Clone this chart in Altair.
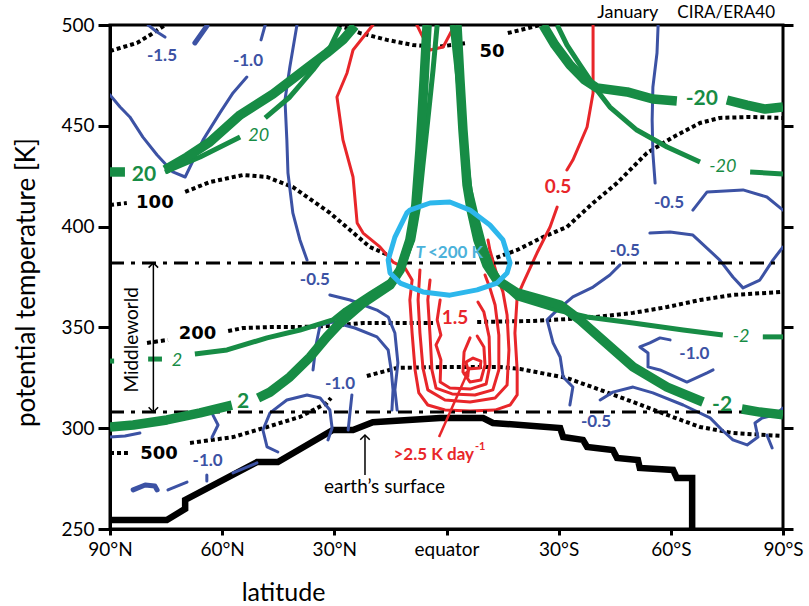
import altair as alt
import pandas as pd

# ---------------- data: latitude in degrees (+ = north), potential temperature in K ----------------
LAT_TICKS = [90, 60, 30, 0, -30, -60, -90]
TH_TICKS = [250, 300, 350, 400, 450, 500]

# Earth's surface
SURF_LAT = [90, 74.8, 69.9, 69.9, 50.7, 45.1, 30.4, 25.0, 19.7, 1.7, -9.8, -12.4, -30.4, -31.2, -36.5,
            -37.6, -44.5, -45.6, -51.2, -51.7, -60.6, -61.6, -65.7, -65.7]
SURF_TH = [254.5, 254.5, 260, 264.4, 283.2, 283.2, 299.1, 299.1, 303, 305, 305, 302.6, 300.1, 295.6, 294.2,
           290.7, 289.2, 285.2, 284.2, 280.3, 279.3, 275.3, 275.3, 250]

# Middleworld bounds (dash-dot)
DD_LAT = [90, -90]
DD_UP_TH = [382, 382]
DD_LO_TH = [308, 308]

# isobars (hPa), dotted black
ISO50_A_LAT = [90, 82.8, 79.3, 75.3]
ISO50_A_TH = [487.1, 491.1, 495, 500]
ISO50_B_LAT = [29.0, 23.1, 15.9, 9.0, 2.5, -5.5]
ISO50_B_TH = [500, 496, 492.6, 490.1, 489.1, 491.1]
ISO50_C_LAT = [-16.4, -19.7, -25.0]
ISO50_C_TH = [496, 497.5, 500]
ISO100_A_LAT = [90, 85.5]
ISO100_A_TH = [410.7, 411.7]
ISO100_B_LAT = [69.9, 63.3, 54.4, 48.0, 41.1, 31.2, 25.8, 20.5, 15.6]
ISO100_B_TH = [417.2, 422.1, 425.6, 424.6, 419.6, 406.8, 398.3, 389.9, 385.9]
ISO100_C_LAT = [-11.6, -18.9, -25.8, -32.2, -39.2, -45.6, -53.6, -60.6, -67.8, -73.1, -81.2, -90]
ISO100_C_TH = [383.4, 388.4, 394.8, 399.8, 411.7, 421.6, 436.5, 444.4, 451.4, 453.9, 454.4, 453.9]
ISO200_A_LAT = [80.1, 74.5]
ISO200_A_TH = [342.3, 343.8]
ISO200_B_LAT = [58.4, 54.4, 46.4, 39.2, 31.2, 22.3, 9.8, 3.6]
ISO200_B_TH = [348.2, 349.7, 350.2, 350.2, 350.7, 352.2, 352.2, 352.2]
ISO200_C_LAT = [-8.2, -23.1, -37.6, -49.9, -59.0, -67.8, -76.6, -90]
ISO200_C_TH = [352.7, 353.2, 354.7, 357.2, 360.1, 363.6, 366.1, 367.6]
ISO500_A_LAT = [90, 85.2]
ISO500_A_TH = [287.7, 287.7]
ISO500_B_LAT = [68.6, 57.1, 48.0, 39.2, 32.0, 30.9]
ISO500_B_TH = [292.7, 295.6, 300.6, 305.6, 312.5, 315]
ISO500_C_LAT = [21.3, 13.2, -0.1, -14.3, -19.7, -32.2, -41.1, -49.9, -59.0, -67.8, -76.6, -90]
ISO500_C_TH = [325.9, 329.9, 330.4, 330.4, 329.4, 324.9, 319, 313, 306.6, 300.6, 297.6, 296.1]
ISO_TEXT = ["50", "100", "200", "500"]
ISO_TXT_LAT = [-12.2, 78.0, 66.6, 76.9]
ISO_TXT_TH = [486.4, 411.7, 346.7, 287.2]

# zonal wind (m/s), green: thick = CIRA, thin = ERA40
G20_THICK_A_LAT = [90, 86.0]
G20_THICK_A_TH = [427.1, 427.1]
G20_THICK_B_LAT = [75.3, 69.4, 63.3, 55.2, 46.4, 37.3, 32.0, 27.7, 24.5]
G20_THICK_B_TH = [428.1, 434.5, 442, 455.4, 465.8, 478.7, 486.1, 492.6, 499.5]
G20_THIN_A_LAT = [75.3, 65.9, 55.2]
G20_THIN_A_TH = [427.1, 434.5, 444.4]
G20_THIN_B_LAT = [48.5, 41.9, 35.7, 31.2, 28.5]
G20_THIN_B_TH = [453.9, 464.3, 477.7, 488.6, 499]
GL_THICK_A_LAT = [5.2, 6.0, 7.1, 8.2, 9.8, 12.4, 15.1, 22.3, 28.5, 32.0, 36.5, 41.9, 47.2, 50.4]
GL_THICK_A_TH = [500, 472.7, 438, 410.7, 393.4, 378.5, 371, 362.1, 352.2, 345.3, 335.3, 325.4, 317.9, 315]
GL_THICK_B_LAT = [57.4, 65.9, 74.8, 83.8, 90]
GL_THICK_B_TH = [311.5, 307.6, 304.1, 301.6, 300.6]
GL_THIN_A_LAT = [2.5, 3.6, 5.0, 6.3, 7.4, 9.0, 11.6, 14.6, 20.5, 27.1, 30.4, 39.2, 48.0, 58.7, 67.3]
GL_THIN_A_TH = [500, 477.7, 452.9, 430.6, 410.7, 393.4, 381, 373.5, 366.6, 358.6, 353.7, 348.7, 344.8, 338.8, 336.8]
GL_THIN_B_LAT = [76.1, 79.8]
GL_THIN_B_TH = [334.3, 334.3]
GL_THIN_C_LAT = [90, 88.9]
GL_THIN_C_TH = [333.3, 333.3]
GR_THICK_A_LAT = [-2.8, -3.6, -4.4, -5.5, -6.6, -8.4, -10.8, -13.5, -18.9, -25.8, -30.4, -35.7, -41.1, -49.9, -59.0, -68.6]
GR_THICK_A_TH = [500, 472.7, 447.9, 420.6, 408.2, 393.4, 381, 373.5, 367.1, 363.6, 361.1, 353.7, 344.8, 330.4, 320.4, 313]
GR_THICK_B_LAT = [-79.0, -83.8, -90]
GR_THICK_B_TH = [309.5, 308, 306.6]
GR_THIN_A_LAT = [-1.5, -3.1, -4.7, -6.3, -7.9, -10.0, -12.2, -15.1, -18.9, -29.6, -37.6, -49.9, -63.3, -73.9]
GR_THIN_A_TH = [500, 472.7, 443, 418.2, 405.8, 390.9, 379.5, 371, 364.6, 358.6, 355.2, 352.2, 348.7, 346.2]
GR_THIN_B_LAT = [-84.6, -90]
GR_THIN_B_TH = [345.3, 345.3]
GUR_THICK_A_LAT = [-25.8, -29.0, -33.0, -37.0, -40.2, -48.3, -55.2, -61.6]
GUR_THICK_A_TH = [500, 490.1, 480.2, 472.7, 468.8, 466.8, 463.3, 462.3]
GUR_THICK_B_LAT = [-75.0, -80.4, -85.2, -90]
GUR_THICK_B_TH = [462.8, 460.3, 458.3, 459.3]
GUR_THIN_A_LAT = [-29.6, -32.2, -35.7, -40.2, -43.7, -50.9, -59.0, -67.8]
GUR_THIN_A_TH = [500, 490.1, 480.2, 467.8, 459.3, 447.9, 439.5, 432.0]
GUR_THIN_B_LAT = [-81.2, -90]
GUR_THIN_B_TH = [427.1, 426.1]
GREEN_BOLD_TEXT = ["20", "2", "-2", "-20"]
GREEN_BOLD_LAT = [80.9, 54.4, -73.7, -68.3]
GREEN_BOLD_TH = [425.6, 312.8, 311.3, 463.3]
GREEN_ITAL_TEXT = ["20", "2", "-2", "-20"]
GREEN_ITAL_LAT = [50.2, 72.1, -78.8, -73.9]
GREEN_ITAL_TH = [444.7, 333.3, 345.0, 429.8]

# heating rate (K/day), red = positive
R1A_LAT = [19.7, 25.0, 26.6, 29.3, 27.7, 25.0, 23.9, 22.3, 17.8, 14.3, 11.1, 9.2, 9.8, 9.2, 8.4, 7.4, 5.0, 0.4,
           -6.3, -13.0, -17.0, -18.9, -18.9, -18.3, -18.9, -20.5, -24.2, -27.7, -29.6]
R1A_TH = [500, 487.6, 476.2, 464.3, 443, 424.6, 401.8, 396.8, 389.9, 382.4, 379.5, 373.5, 363.6, 347.2, 328.9, 317.5,
          311.5, 309, 308.5, 309, 311.5, 316.5, 328.9, 347.2, 365.1, 372, 386.9, 399.8, 409.7]
R1B_LAT = [-32.2, -33.8, -37.6, -39.2, -39.2]
R1B_TH = [428.1, 433.0, 449.4, 466.3, 500]
R2_LAT = [7.9, 6.6, 4.4, 0.9, -1.5, -1.7]
R2_TH = [500, 495, 487.6, 489.1, 497.5, 500]
R3_LAT = [7.1, 7.6, 7.1, 6.3, 5.0, 0.4, -6.3, -13.0, -16.2, -16.7, -16.2, -15.1, -13.5, -11.6, -11.1]
R3_TH = [378.5, 363.6, 347.2, 329.9, 319, 314, 313, 315, 321.4, 338.8, 356.2, 367.6, 376, 388.4, 393.4]
R4_LAT = [4.4, 5.0, 4.4, 3.9, 2.8, -1.5, -7.6, -12.4, -14.0, -14.0, -13.0, -11.6, -10.3]
R4_TH = [373.5, 363.6, 346.2, 328.9, 319.9, 317, 316.5, 319, 328.9, 346.2, 361.1, 369.6, 376]
R5_LAT = [1.7, 2.5, 1.5, 2.8, 1.5, 1.7, -0.9, -6.3, -10.6, -11.6, -11.4, -10.0, -8.4]
R5_TH = [363.6, 353.7, 346.2, 341.3, 333.8, 322.9, 319.9, 319.4, 321.9, 331.4, 345.3, 357.6, 362.6]
R6_LAT = [-6.3, -4.7, -4.4, -6.3, -9.2, -10.3, -10.0, -8.2]
R6_TH = [344.8, 337.8, 327.9, 322.9, 323.9, 331.4, 340.3, 345.7]
R7_LAT = [-5.2, -5.7, -9.0, -9.2, -7.1, -5.2]
R7_TH = [332.8, 329.4, 329.9, 333.3, 334.8, 332.8]
RED_TEXT = ["0.5", "1.5"]
RED_TXT_LAT = [-29.8, -2.3]
RED_TXT_TH = [419.6, 354.9]
RED_ARROW_LAT = [2.0, -6.3]
RED_ARROW_TH = [295.6, 330.4]
RED_HEAD_LAT = [-5.75]
RED_HEAD_TH = [328.1]

# heating rate, blue = negative
BT1_LAT = [79.8, 77.4, 75.3]
BT1_TH = [500, 496.5, 494]
BT2_LAT = [67.3, 64.1]
BT2_TH = [491.1, 499.5]
B2A_LAT = [48.5, 49.6]
B2A_TH = [500, 492.6]
B2B_LAT = [53.4, 57.1, 60.6, 65.1, 69.9, 73.2, 77.4, 81.2, 84.7, 87.3, 90]
B2B_TH = [474.2, 466.3, 456.4, 443, 424.6, 427.1, 435.5, 444.4, 454.4, 459.3, 465.3]
B3_LAT = [40.0, 41.9, 43.2, 42.7, 42.4, 41.1, 39.2, 37.3]
B3_TH = [500, 479.2, 462.8, 443, 426.6, 406.8, 393.4, 383.4]
BC1_LAT = [31.2, 25.8, 18.6, 15.6, 13.8, 13.0, 13.8, 13.2]
BC1_TH = [366.1, 363.6, 358.6, 355.2, 347.2, 332.4, 319, 309]
BC2_LAT = [35.7, 34.9, 33.8, 30.4, 24.5, 18.6, 15.6, 14.8, 14.3, 14.6]
BC2_TH = [328.9, 341.3, 351.2, 352.7, 349.7, 345.3, 338.8, 328.9, 319, 309]
BLOOP_LAT = [45.1, 48.0, 49.1, 47.2, 42.7, 37.3, 33.8, 31.2, 30.6, 31.7]
BLOOP_TH = [288.2, 290.7, 299.1, 307.6, 314, 316.5, 315, 309, 300.1, 294.2]
BS2_LAT = [25.3, 25.8, 26.3]
BS2_TH = [316.5, 308, 299.1]
BLS_LAT = [62.5, 61.1, 62.7]
BLS_TH = [306.6, 301.6, 295.6]
BLA_LAT = [90, 86.0, 82.0]
BLA_TH = [295.6, 296.1, 297.6]
BD0_LAT = [83.8, 80.6, 78.0, 77.4]
BD0_TH = [269.4, 271.8, 271.3, 269.4]
BD1_LAT = [74.5, 69.4]
BD1_TH = [269.4, 273.3]
BD2_LAT = [64.1, 64.1]
BD2_TH = [276.8, 273.8]
BD3_LAT = [57.1, 50.7]
BD3_TH = [277.8, 282.8]
BR1_LAT = [-56.6, -56.3, -55.2, -55.0, -55.2, -55.8]
BR1_TH = [500, 486.1, 469.2, 452.9, 436.5, 421.6]
BR2_LAT = [-65.9, -69.7, -79.3, -85.7, -90]
BR2_TH = [408.2, 417.2, 418.2, 414.7, 408.2]
BR3_LAT = [-54.4, -59.8, -65.9, -73.1, -76.6, -79.3, -83.8, -87.3, -90]
BR3_TH = [396.8, 397.3, 395.8, 383.4, 375, 369.6, 373.5, 383.4, 389.9]
BR4_LAT = [-46.4, -43.7, -39.2, -33.8, -29.6, -26.9, -28.5, -30.4, -31.2, -33.8, -33.0]
BR4_TH = [381, 376, 370, 365.1, 358.6, 353.7, 342.3, 335.3, 325.4, 320.4, 311.5]
BR5_LAT = [-59.8, -57.1, -54.4, -51.7, -53.9, -53.9, -57.1, -64.3, -69.7, -71.3]
BR5_TH = [343.8, 344.8, 342.3, 340.3, 337.3, 330.4, 328.9, 322.9, 327.4, 328.9]
BR6_LAT = [-41.1, -44.5, -49.9, -55.2, -63.3, -70.5, -73.7, -76.6, -80.4, -83.3, -82.5, -84.4, -87.9, -90]
BR6_TH = [314, 317.9, 320.4, 317.5, 311.5, 305.1, 299.1, 294.2, 291.7, 295.6, 302.6, 305.1, 306.6, 310]
BR7_LAT = [-85.7, -87.1]
BR7_TH = [296.6, 290.2]
BLUE_TEXT = ["-1.5", "-1.0", "-0.5", "-1.0", "-1.0", "-0.5", "-0.5", "-1.0", "-0.5"]
BLUE_TXT_LAT = [76.1, 53.1, 35.2, 28.5, 63.9, -59.5, -47.7, -66.3, -40.0]
BLUE_TXT_TH = [484.6, 482.1, 373.5, 321.9, 283.7, 411.5, 388.0, 336.8, 303.1]

# T < 200 K region
COLD_LAT = [9.8, 4.4, -0.9, -6.3, -11.6, -15.1, -17.0, -16.2, -13.5, -8.2, -0.9, 6.3, 12.4, 15.1, 15.6, 13.8, 10.6, 9.8]
COLD_TH = [408.2, 411.7, 412.2, 408.2, 400.8, 393.4, 382, 377, 372, 368.6, 366, 367.6, 372, 377, 383.4, 394.8, 406.8, 408.2]

# annotation arrows
MW_LAT = [78.4, 78.4]
MW_TH = [382, 308]
ES_LAT = [21.8, 21.8]
ES_TH = [276.8, 296.6]

# ---------------- helpers ----------------
XSC = alt.Scale(domain=[90, -90], nice=False, zero=False)
YSC = alt.Scale(domain=[250, 500], nice=False, zero=False)
XN = alt.X("lat:Q", scale=XSC, axis=None)
YN = alt.Y("theta:Q", scale=YSC, axis=None)

LABEL_EXPR = ("datum.value == 0 ? 'equator' : (datum.value > 0 ? datum.value + '°N' : "
              "(-datum.value) + '°S')")
X_AX = alt.X("lat:Q", scale=XSC, axis=alt.Axis(
    orient="bottom", values=LAT_TICKS, labelExpr=LABEL_EXPR, tickSize=6, tickWidth=3, tickColor="black",
    domainColor="black", domainWidth=3, labelFont="Lato", labelFontSize=19, labelColor="black",
    labelPadding=5, labelFlush=False, labelOverlap=False, grid=False,
    title="latitude", titleFont="Lato", titleFontSize=25, titleFontWeight="normal", titleColor="black",
    titleX=173, titleY=71, titleAlign="center", titleBaseline="alphabetic"))
Y_AX = alt.Y("theta:Q", scale=YSC, axis=alt.Axis(
    orient="left", values=TH_TICKS, tickSize=12, tickWidth=3, tickColor="black", domainColor="black",
    domainWidth=3, labelFont="Lato", labelFontSize=19, labelColor="black", labelPadding=4, grid=False,
    title="potential temperature [K]", titleFont="Lato", titleFontSize=26, titleFontWeight="normal",
    titleColor="black", titleX=-84, titleY=257, titleAngle=270, titleAlign="center",
    titleBaseline="middle"))
Y_RIGHT = alt.Y("theta:Q", scale=YSC, axis=alt.Axis(
    orient="right", values=TH_TICKS, labels=False, tickSize=10, tickWidth=3, tickColor="black",
    domain=False, grid=False, title=""))


def paths_df(paths):
    rows = []
    for k, (la, th) in enumerate(paths):
        for i, (a, b) in enumerate(zip(la, th)):
            rows.append({"lat": a, "theta": b, "seg": k, "i": i})
    return pd.DataFrame(rows)


def line_layer(paths, color, width, dash=None, join="round", cap="round", x=XN, y=YN):
    kw = dict(color=color, strokeWidth=width, strokeJoin=join, strokeCap=cap, clip=True)
    if dash is not None:
        kw["strokeDash"] = dash
    return alt.Chart(paths_df(paths)).mark_line(**kw).encode(
        x=x, y=y, detail="seg:N", order="i:Q")


def text_layer(texts, lats, ths, color, size, weight="bold", style="normal", font="Lato",
               angle=0, align="center", baseline="middle"):
    df = pd.DataFrame({"t": texts, "lat": lats, "theta": ths})
    return alt.Chart(df).mark_text(
        color=color, fontSize=size, fontWeight=weight, fontStyle=style, font=font,
        angle=angle, align=align, baseline=baseline).encode(x=XN, y=YN, text="t:N")


def head_layer(lats, ths, shape, color, size, filled, angle=0, sw=1.5):
    df = pd.DataFrame({"lat": lats, "theta": ths})
    return alt.Chart(df).mark_point(
        shape=shape, size=size, filled=filled, color=color, opacity=1, angle=angle,
        strokeWidth=sw).encode(x=XN, y=YN)


GREEN = "#178c45"
BLUE = "#3c52a4"
RED = "#e8262a"
CYAN = "#2db7ec"

layers = [
    # surface (axis carrier)
    line_layer([(SURF_LAT, SURF_TH)], "black", 6.5, join="miter", cap="butt", x=X_AX, y=Y_AX),
    # isobars
    line_layer([(ISO50_A_LAT, ISO50_A_TH), (ISO50_B_LAT, ISO50_B_TH), (ISO50_C_LAT, ISO50_C_TH),
                (ISO100_A_LAT, ISO100_A_TH), (ISO100_B_LAT, ISO100_B_TH), (ISO100_C_LAT, ISO100_C_TH),
                (ISO200_A_LAT, ISO200_A_TH), (ISO200_B_LAT, ISO200_B_TH), (ISO200_C_LAT, ISO200_C_TH),
                (ISO500_A_LAT, ISO500_A_TH), (ISO500_B_LAT, ISO500_B_TH), (ISO500_C_LAT, ISO500_C_TH)],
               "black", 4, dash=[4, 3], cap="butt", join="miter"),
    # blue (negative heating)
    line_layer([(BT1_LAT, BT1_TH), (B2A_LAT, B2A_TH), (B2B_LAT, B2B_TH), (B3_LAT, B3_TH),
                (BC1_LAT, BC1_TH), (BC2_LAT, BC2_TH), (BLOOP_LAT, BLOOP_TH), (BS2_LAT, BS2_TH),
                (BLS_LAT, BLS_TH), (BLA_LAT, BLA_TH), (BD1_LAT, BD1_TH), (BD2_LAT, BD2_TH),
                (BD3_LAT, BD3_TH), (BR1_LAT, BR1_TH), (BR2_LAT, BR2_TH), (BR3_LAT, BR3_TH),
                (BR4_LAT, BR4_TH), (BR5_LAT, BR5_TH), (BR6_LAT, BR6_TH), (BR7_LAT, BR7_TH)],
               BLUE, 3),
    line_layer([(BT2_LAT, BT2_TH), (BD0_LAT, BD0_TH)], BLUE, 5),
    # red (positive heating)
    line_layer([(R1A_LAT, R1A_TH), (R1B_LAT, R1B_TH), (R2_LAT, R2_TH), (R3_LAT, R3_TH),
                (R4_LAT, R4_TH), (R5_LAT, R5_TH), (R6_LAT, R6_TH), (R7_LAT, R7_TH)],
               RED, 3),
    # middleworld bounds, carrying the right-hand ticks
    line_layer([(DD_LAT, DD_UP_TH), (DD_LAT, DD_LO_TH)], "black", 3, dash=[14, 7, 4, 7],
               cap="butt", y=Y_RIGHT),
    # green wind contours
    line_layer([(G20_THIN_A_LAT, G20_THIN_A_TH), (G20_THIN_B_LAT, G20_THIN_B_TH),
                (GL_THIN_A_LAT, GL_THIN_A_TH), (GL_THIN_B_LAT, GL_THIN_B_TH), (GL_THIN_C_LAT, GL_THIN_C_TH),
                (GR_THIN_A_LAT, GR_THIN_A_TH), (GR_THIN_B_LAT, GR_THIN_B_TH),
                (GUR_THIN_A_LAT, GUR_THIN_A_TH), (GUR_THIN_B_LAT, GUR_THIN_B_TH)],
               GREEN, 5, cap="butt"),
    line_layer([(G20_THICK_A_LAT, G20_THICK_A_TH), (G20_THICK_B_LAT, G20_THICK_B_TH),
                (GL_THICK_A_LAT, GL_THICK_A_TH), (GL_THICK_B_LAT, GL_THICK_B_TH),
                (GR_THICK_A_LAT, GR_THICK_A_TH), (GR_THICK_B_LAT, GR_THICK_B_TH),
                (GUR_THICK_A_LAT, GUR_THICK_A_TH), (GUR_THICK_B_LAT, GUR_THICK_B_TH)],
               GREEN, 9.5, cap="butt"),
    # cold region
    line_layer([(COLD_LAT, COLD_TH)], CYAN, 5),
    # arrows
    line_layer([(MW_LAT, MW_TH), (ES_LAT, ES_TH)], "black", 1.5, cap="butt"),
    head_layer([MW_LAT[0], ES_LAT[1]], [MW_TH[0], ES_TH[1]], "M -1 1 L 0 0 L 1 1", "black", 90, False),
    head_layer([MW_LAT[1]], [MW_TH[1]], "M -1 -1 L 0 0 L 1 -1", "black", 90, False),
    line_layer([(RED_ARROW_LAT, RED_ARROW_TH)], RED, 2.5, cap="butt"),
    head_layer(RED_HEAD_LAT, RED_HEAD_TH, "M 0 -1 L -0.7 1 L 0.7 1 Z", RED, 110, True, angle=24, sw=0),
    # labels
    text_layer(ISO_TEXT, ISO_TXT_LAT, ISO_TXT_TH, "black", 18, font="DejaVu Sans"),
    text_layer(GREEN_BOLD_TEXT, GREEN_BOLD_LAT, GREEN_BOLD_TH, GREEN, 21),
    text_layer(GREEN_ITAL_TEXT, GREEN_ITAL_LAT, GREEN_ITAL_TH, GREEN, 18, weight="normal", style="italic"),
    text_layer(BLUE_TEXT, BLUE_TXT_LAT, BLUE_TXT_TH, BLUE, 17),
    text_layer(RED_TEXT, RED_TXT_LAT, RED_TXT_TH, RED, 19),
    text_layer([">2.5 K day"], [-7.35], [286.7], RED, 17, align="right"),
    text_layer(["-1"], [-7.6], [290.9], RED, 11, align="left"),
    text_layer(["T"], [5.75], [386.9], "#4cb2da", 17, style="italic", align="right"),
    text_layer(["<200 K"], [4.95], [386.9], "#4cb2da", 17, align="left"),
    text_layer(["Middleworld"], [84.1], [343.8], "black", 19, weight="normal", angle=270),
    text_layer(["earth\u2019s surface"], [16.6], [270.8], "black", 19, weight="normal"),
    text_layer(["January"], [-48.5], [506], "black", 18, weight="normal"),
    text_layer(["CIRA/ERA40"], [-74.8], [506], "black", 17, weight="normal"),
]

chart = alt.layer(*layers).resolve_axis(x="independent", y="independent").properties(
    width=673, height=504,
    padding={"left": 110, "top": 25, "right": 26, "bottom": 77},
    autosize=alt.AutoSizeParams(type="none"),
).configure_view(stroke="black", strokeWidth=3).configure_axis(grid=False)

chart.save("out.html", embed_options={"renderer": "svg", "actions": False})
